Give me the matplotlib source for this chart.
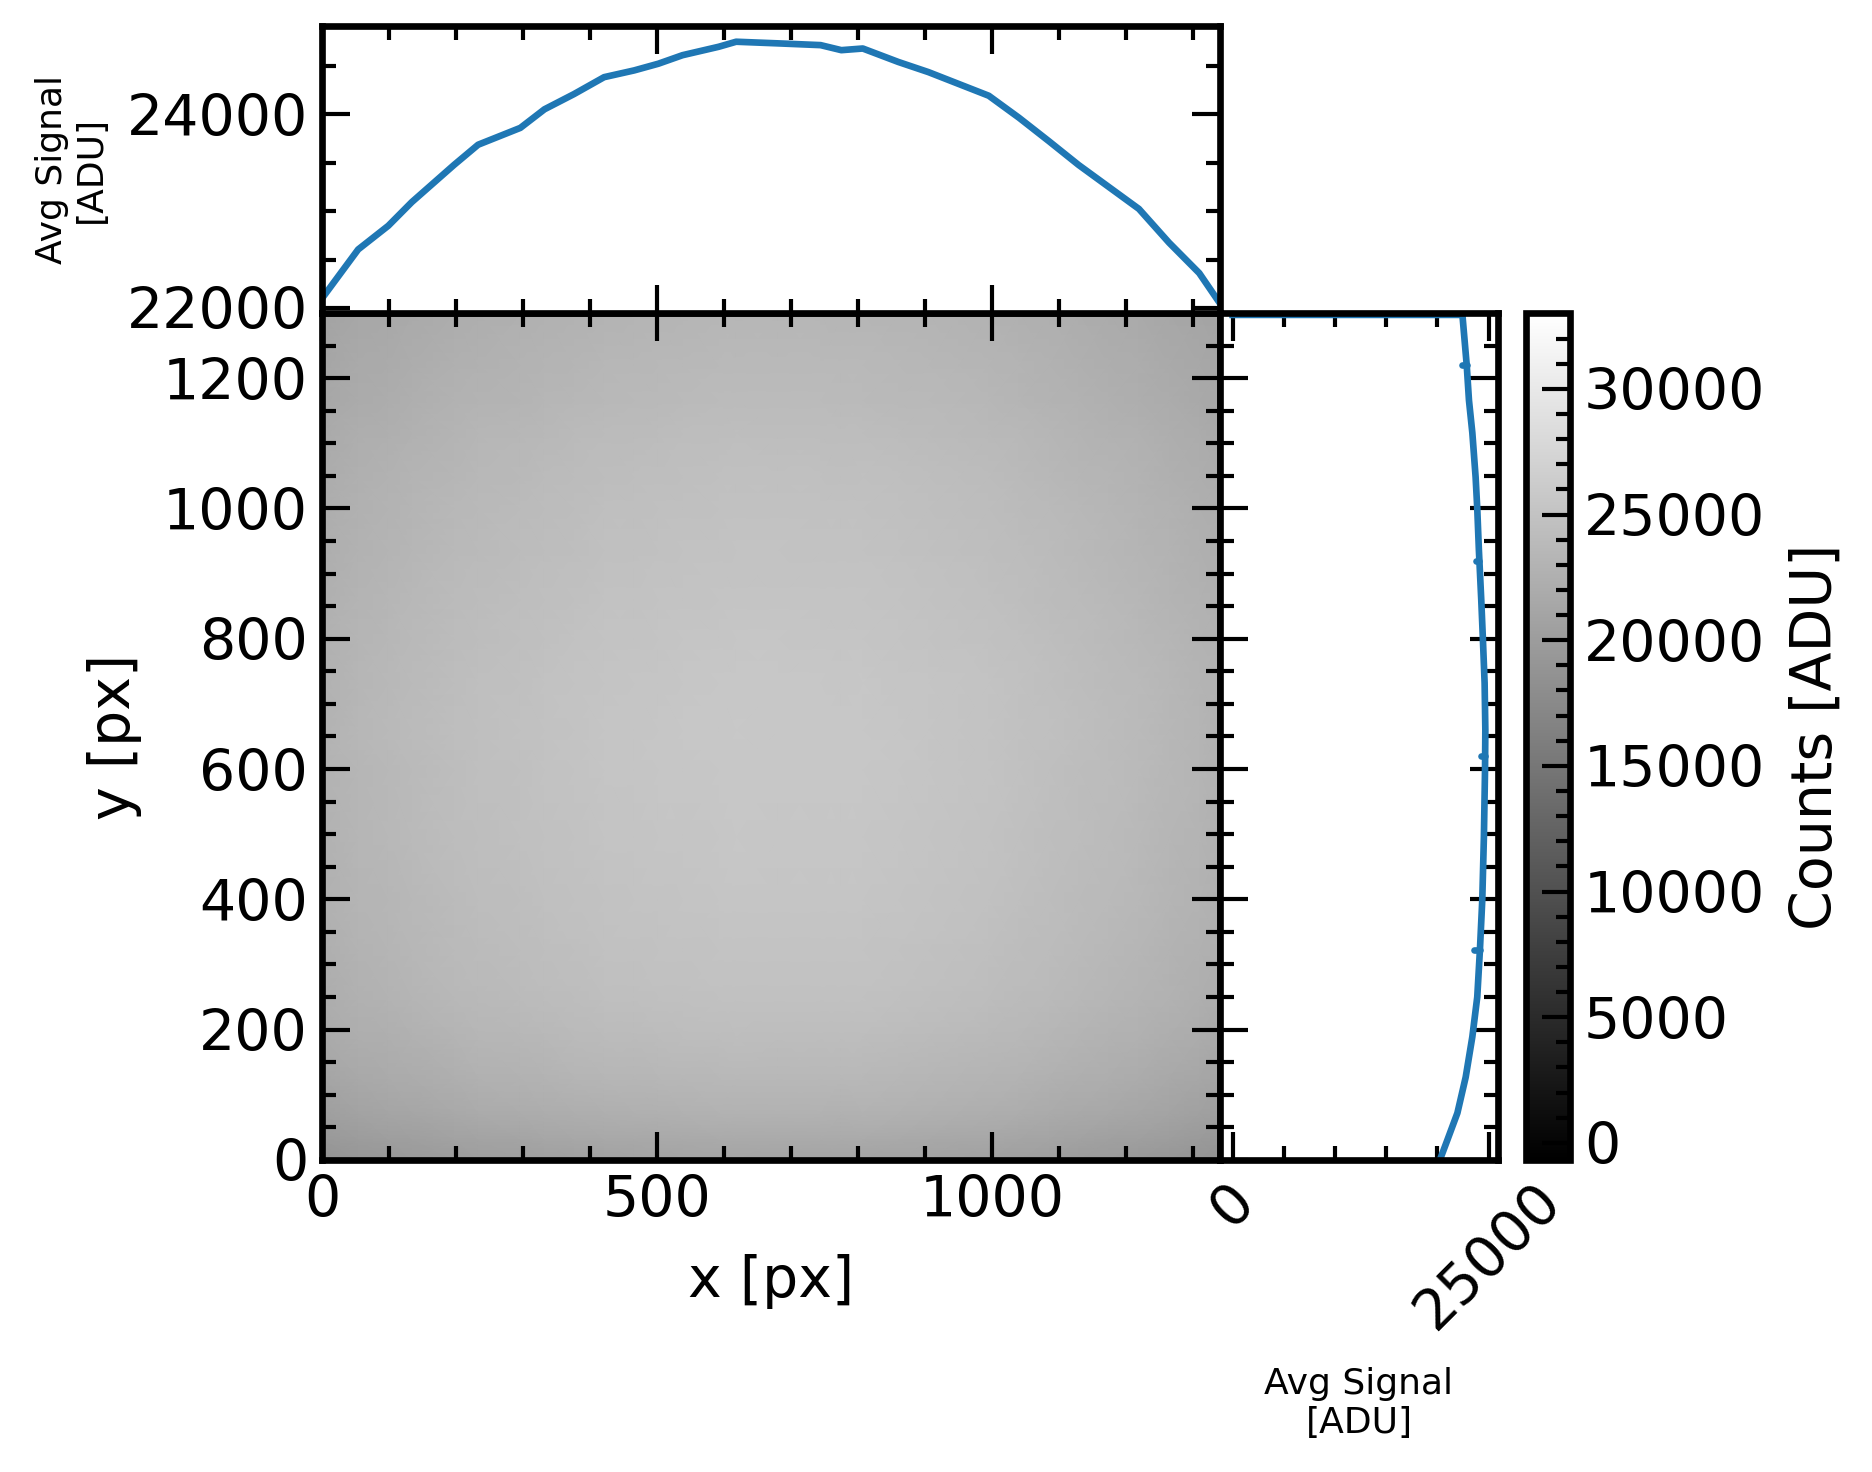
import numpy as np
import matplotlib
matplotlib.use("Agg")
import matplotlib.pyplot as plt
from matplotlib.ticker import MultipleLocator

# column-averaged signal (top panel)
col_x = [0, 54, 99, 134, 197, 233, 296, 332, 376, 421, 466, 502, 538, 592, 618,
         681, 744, 775, 807, 860, 905, 950, 995, 1040, 1085, 1129, 1174, 1219,
         1264, 1309, 1340]
col_signal = [22098, 22604, 22849, 23093, 23477, 23686, 23860, 24052, 24209,
              24384, 24454, 24523, 24611, 24698, 24750, 24733, 24715, 24663,
              24680, 24541, 24436, 24314, 24192, 23965, 23721, 23477, 23250,
              23023, 22674, 22360, 22046]

# row-averaged signal (right panel)
row_y = [0, 31, 72, 127, 189, 250, 322, 399, 496, 599, 660, 732, 800, 860, 936,
         1000, 1048, 1116, 1166, 1220, 1300]
row_signal = [20250, 20990, 21960, 22770, 23420, 23900, 24160, 24390, 24550,
              24660, 24690, 24620, 24450, 24290, 24060, 23900, 23740, 23420,
              23090, 22870, 22450]
# last row drops to zero
edge_row = 1297
edge_signal = 0

# single-row dips in the row profile: row, base, dip
dip_rows = [322, 620, 920, 1220]
dip_base = [24160, 24630, 24080, 22870]
dip_value = [23580, 24230, 23740, 22450]

x_max, y_max = 1340, 1300
vmin, vmax = -680, 33020
blue = "#1f77b4"
lw_axes = 2.4

plt.rcParams["font.family"] = "DejaVu Sans"
fig = plt.figure(figsize=(9.36, 7.36), dpi=200)

ax = fig.add_axes([0.172, 0.2120, 0.4797, 0.5754])
ax_top = fig.add_axes([0.172, 0.7874, 0.4797, 0.1949], sharex=ax)
ax_right = fig.add_axes([0.6517, 0.2120, 0.1485, 0.5754], sharey=ax)
cax = fig.add_axes([0.8152, 0.2120, 0.0235, 0.5754])

# flat field image built from the two profiles
cols = np.array(col_signal, dtype=float)
rows = np.array(row_signal, dtype=float)
img = np.outer(rows, cols) / cols.mean()
mesh = ax.pcolormesh(col_x, row_y, img, shading="gouraud", cmap="gray",
                     vmin=vmin, vmax=vmax, rasterized=True)
ax.set_xlim(0, x_max)
ax.set_ylim(0, y_max)

ax_top.plot(col_x, col_signal, color=blue, lw=2.4)
ax_top.set_ylim(21948, 24912)

ax_right.plot(list(row_signal[:-1]) + [row_signal[-1], edge_signal],
              list(row_y[:-1]) + [edge_row, edge_row], color=blue, lw=2.4)
for r, b, d in zip(dip_rows, dip_base, dip_value):
    ax_right.plot([b, d], [r, r], color=blue, lw=2.4, solid_capstyle="round")
ax_right.margins(x=0.05)

tick_kw = dict(direction="in", top=True, right=True, labelsize=20.5, pad=5)
for a in (ax, ax_top, ax_right):
    a.tick_params(which="major", length=10, width=1.5, **tick_kw)
    a.tick_params(which="minor", length=5, width=1.5, direction="in",
                  top=True, right=True)
    for s in a.spines.values():
        s.set_linewidth(lw_axes)

ax.xaxis.set_major_locator(MultipleLocator(500))
ax.xaxis.set_minor_locator(MultipleLocator(100))
ax.yaxis.set_major_locator(MultipleLocator(200))
ax.yaxis.set_minor_locator(MultipleLocator(50))
ax_top.yaxis.set_major_locator(MultipleLocator(2000))
ax_top.yaxis.set_minor_locator(MultipleLocator(500))
ax_right.xaxis.set_major_locator(MultipleLocator(25000))
ax_right.xaxis.set_minor_locator(MultipleLocator(5000))

ax_top.tick_params(labelbottom=False)
ax_right.tick_params(labelleft=False)
for lab in ax_right.get_xticklabels():
    lab.set_rotation(45)

ax.set_xlabel("x [px]", fontsize=20.5)
ax.xaxis.set_label_coords(0.5, -0.111)
ax.set_ylabel("y [px]", fontsize=20.5)
ax.yaxis.set_label_coords(-0.20, 0.5)
ax_top.set_ylabel("Avg Signal\n[ADU]", fontsize=13)
ax_top.yaxis.set_label_coords(-0.238, 0.5)
ax_right.set_xlabel("Avg Signal\n[ADU]", fontsize=13)
ax_right.xaxis.set_label_coords(0.5, -0.244)

cb = fig.colorbar(mesh, cax=cax)
cb.set_ticks(np.arange(0, 30001, 5000))
cax.yaxis.set_minor_locator(MultipleLocator(1000))
cax.tick_params(which="major", direction="in", length=10, width=1.5,
                labelsize=20.5, pad=5)
cax.tick_params(which="minor", direction="in", length=5, width=1.5)
cb.outline.set_linewidth(lw_axes)
cb.set_label("Counts [ADU]", fontsize=20.5)
cax.yaxis.set_label_coords(5.98, 0.5)

fig.savefig("out.png", dpi=200)
